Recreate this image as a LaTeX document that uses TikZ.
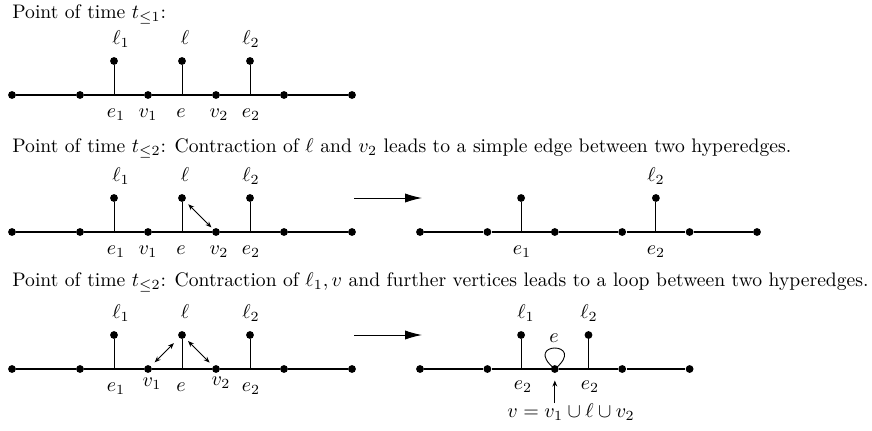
\documentclass[tikz,border=0pt]{standalone}
\usetikzlibrary{arrows.meta}
\begin{document}
\begin{tikzpicture}[x=0.5pt,y=-0.5pt,
  every node/.style={font=\fontsize{9.8pt}{12pt}\selectfont},
  dot/.style={circle,fill=black,inner sep=0pt,minimum size=3.9pt},
  lab/.style={anchor=base,inner sep=0pt},
  ttl/.style={anchor=base west,inner sep=0pt},
  hline/.style={line width=0.6pt},
  stem/.style={line width=0.45pt},
  dbl/.style={line width=0.45pt,{Stealth[length=3pt,width=2.4pt]}-{Stealth[length=3pt,width=2.4pt]}},
  sgl/.style={line width=0.45pt,-{Stealth[length=3pt,width=2.4pt]}},
  big/.style={line width=0.5pt,-{Latex[length=8.5pt,width=4.6pt]}}]
\useasboundingbox (0,0) rectangle (872,430);

% ---------- Row 1 ----------
\node[ttl] (t1) at (12,18) {Point of time $t_{\le 1}$:};
\foreach \i/\x in {1/12,2/80,3/148,4/216,5/284,6/352}
  \node[dot] (a\i) at (\x,95) {};
\coordinate (ae1) at (114,95);
\coordinate (ae) at (182,95);
\coordinate (ae2) at (250,95);
\node[dot] (al1) at (114,61) {};
\node[dot] (al) at (182,61) {};
\node[dot] (al2) at (250,61) {};
\draw[hline] (a1) -- (a2) -- (a3) -- (a4) -- (a5) -- (a6);
\draw[stem] (al1) -- (ae1);
\draw[stem] (al) -- (ae);
\draw[stem] (al2) -- (ae2);
\node[lab] (aL1) at (121,44) {$\ell_1$};
\node[lab] (aL) at (185,44) {$\ell$};
\node[lab] (aL2) at (251,44) {$\ell_2$};
\node[lab] (aE1) at (116,117) {$e_1$};
\node[lab] (aV1) at (148,117) {$v_1$};
\node[lab] (aE) at (181,117) {$e$};
\node[lab] (aV2) at (219,117) {$v_2$};
\node[lab] (aE2) at (251,117) {$e_2$};

% ---------- Row 2 ----------
\node[ttl] (t2) at (12,152) {Point of time $t_{\le 2}$: Contraction of $\ell$ and $v_2$ leads to a simple edge between two hyperedges.};
\foreach \i/\x in {1/12,2/80,3/148,4/216,5/284,6/352}
  \node[dot] (b\i) at (\x,232) {};
\coordinate (be1) at (114,232);
\coordinate (be) at (182,232);
\coordinate (be2) at (250,232);
\node[dot] (bl1) at (114,198) {};
\node[dot] (bl) at (182,198) {};
\node[dot] (bl2) at (250,198) {};
\draw[hline] (b1) -- (b2) -- (b3) -- (b4) -- (b5) -- (b6);
\draw[stem] (bl1) -- (be1);
\draw[stem] (bl) -- (be);
\draw[stem] (bl2) -- (be2);
\draw[dbl,shorten <=2.3pt,shorten >=1.1pt] (bl) -- (b4);
\node[lab] (bL1) at (121,181) {$\ell_1$};
\node[lab] (bL) at (185,181) {$\ell$};
\node[lab] (bL2) at (251,181) {$\ell_2$};
\node[lab] (bE1) at (116,254) {$e_1$};
\node[lab] (bV1) at (148,254) {$v_1$};
\node[lab] (bE) at (181,254) {$e$};
\node[lab] (bV2) at (219,254) {$v_2$};
\node[lab] (bE2) at (251,254) {$e_2$};
% arrow
\coordinate (bs) at (354,198);
\coordinate (bt) at (422,198);
\draw[big] (bs) -- (bt);
% right graph
\foreach \i/\x in {1/420,2/487.4,3/554.8,4/622.2,5/689.6,6/757}
  \node[dot] (c\i) at (\x,232) {};
\coordinate (ce1) at (521.1,232);
\coordinate (ce2) at (655.9,232);
\node[dot] (cl1) at (521.1,198) {};
\node[dot] (cl2) at (655.9,198) {};
\draw[hline] (c1) -- (c2) -- (c3) -- (c4) -- (c5) -- (c6);
\draw[stem] (cl1) -- (ce1);
\draw[stem] (cl2) -- (ce2);
\node[lab] (cL2) at (656,181) {$\ell_2$};
\node[lab] (cE1) at (522,254) {$e_1$};
\node[lab] (cE2) at (656,254) {$e_2$};

% ---------- Row 3 ----------
\node[ttl] (t3) at (12,286) {Point of time $t_{\le 2}$: Contraction of $\ell_1, v$ and further vertices leads to a loop between two hyperedges.};
\foreach \i/\x in {1/12,2/80,3/148,4/216,5/284,6/352}
  \node[dot] (d\i) at (\x,369) {};
\coordinate (de1) at (114,369);
\coordinate (de) at (182,369);
\coordinate (de2) at (250,369);
\node[dot] (dl1) at (114,335) {};
\node[dot] (dl) at (182,335) {};
\node[dot] (dl2) at (250,335) {};
\draw[hline] (d1) -- (d2) -- (d3) -- (d4) -- (d5) -- (d6);
\draw[stem] (dl1) -- (de1);
\draw[stem] (dl) -- (de);
\draw[stem] (dl2) -- (de2);
\draw[dbl,shorten <=2.6pt,shorten >=3.6pt] (d3) -- (dl);
\draw[dbl,shorten <=2.1pt,shorten >=2.4pt] (dl) -- (d4);
\node[lab] (dL1) at (121,318) {$\ell_1$};
\node[lab] (dL) at (185,318) {$\ell$};
\node[lab] (dL2) at (251,318) {$\ell_2$};
\node[lab] (dE1) at (116,391) {$e_1$};
\node[lab] (dV1) at (152,386) {$v_1$};
\node[lab] (dE) at (181,391) {$e$};
\node[lab] (dV2) at (221,385) {$v_2$};
\node[lab] (dE2) at (251,391) {$e_2$};
% arrow
\coordinate (ds) at (354,335);
\coordinate (dt) at (422,335);
\draw[big] (ds) -- (dt);
% right graph
\foreach \i/\x in {1/420,2/487.4,3/554.8,4/622.2,5/689.6}
  \node[dot] (f\i) at (\x,369) {};
\coordinate (fe1) at (521.1,369);
\coordinate (fe2) at (588.5,369);
\node[dot] (fl1) at (521.1,335) {};
\node[dot] (fl2) at (588.5,335) {};
\draw[hline] (f1) -- (f2) -- (f3) -- (f4) -- (f5);
\draw[stem] (fl1) -- (fe1);
\draw[stem] (fl2) -- (fe2);
\draw[stem] (f3.center) .. controls +(-34,-28) and +(34,-28) .. (f3.center);
\node[lab] (fL1) at (526,318) {$\ell_1$};
\node[lab] (fL2) at (589,318) {$\ell_2$};
\node[lab] (fE) at (554,342) {$e$};
\node[lab] (fE1) at (523,389) {$e_2$};
\node[lab] (fE2) at (590,389) {$e_2$};
\coordinate (ftail) at (554.8,403);
\draw[sgl,shorten >=3.6pt] (ftail) -- (f3);
\node[lab] (fV) at (571,417) {$v = v_1 \cup \ell \cup v_2$};
\end{tikzpicture}
\end{document}
